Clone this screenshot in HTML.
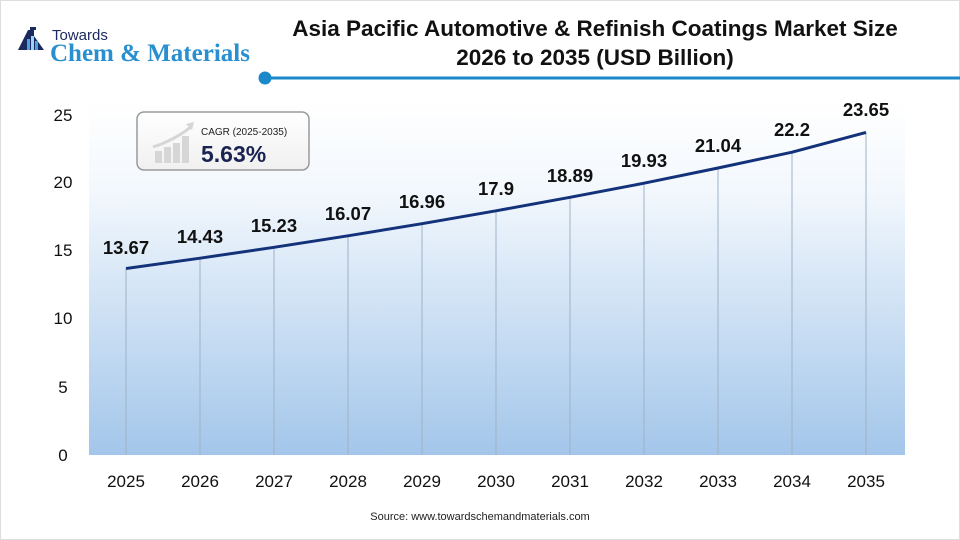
<!DOCTYPE html>
<html><head><meta charset="utf-8"><style>
body{margin:0;background:#fff;}
svg{display:block;font-family:"Liberation Sans",sans-serif;}
</style></head><body>
<svg width="960" height="540" viewBox="0 0 960 540" xmlns="http://www.w3.org/2000/svg">
<defs>
<linearGradient id="bg" x1="0" y1="0" x2="0" y2="1">
<stop offset="0" stop-color="#ffffff"/>
<stop offset="0.25" stop-color="#f3f8fd"/>
<stop offset="1" stop-color="#a3c6ea"/>
</linearGradient>
<linearGradient id="box" x1="0" y1="0" x2="0" y2="1">
<stop offset="0" stop-color="#ffffff"/>
<stop offset="1" stop-color="#f0f0f0"/>
</linearGradient>
</defs>
<rect x="0.5" y="0.5" width="959" height="539" fill="#fff" stroke="#ddd"/>
<rect x="89" y="100" width="816" height="355" fill="url(#bg)"/>
<!-- logo -->
<g>
<path d="M28 30h6v6l10 14h-26z" fill="#1b2a5e"/>
<rect x="30" y="27" width="6" height="3" fill="#1b2a5e"/>
<rect x="27" y="39" width="3" height="11" fill="#4aa3df"/>
<rect x="31" y="36" width="3" height="14" fill="#9fd1f2"/>
<rect x="35" y="41" width="3" height="9" fill="#4aa3df"/>
<text x="52" y="40" font-size="15" fill="#1b2a5e">Towards</text>
<text x="50" y="61" font-size="25" fill="#2a8fd0" font-family="Liberation Serif,serif" font-weight="bold">Chem &amp; Materials</text>
</g>
<!-- title -->
<text x="595" y="36" font-size="22.5" font-weight="bold" text-anchor="middle" fill="#111">Asia Pacific Automotive &amp; Refinish Coatings Market Size</text>
<text x="595" y="65" font-size="22.5" font-weight="bold" text-anchor="middle" fill="#111">2026 to 2035 (USD Billion)</text>
<line x1="265" y1="78" x2="960" y2="78" stroke="#1a88c9" stroke-width="3"/>
<circle cx="265" cy="78" r="6.5" fill="#1a88c9"/>
<!-- y axis labels -->
<g font-size="17" fill="#111" text-anchor="middle">
<text x="63" y="121">25</text>
<text x="63" y="188">20</text>
<text x="63" y="256">15</text>
<text x="63" y="324">10</text>
<text x="63" y="393">5</text>
<text x="63" y="461">0</text>
</g>
<!-- grid lines -->
<g stroke="#9fb2c6" stroke-width="1">
<line x1="126" y1="268.5" x2="126" y2="455"/>
<line x1="200" y1="258.2" x2="200" y2="455"/>
<line x1="274" y1="247.3" x2="274" y2="455"/>
<line x1="348" y1="235.8" x2="348" y2="455"/>
<line x1="422" y1="223.7" x2="422" y2="455"/>
<line x1="496" y1="210.8" x2="496" y2="455"/>
<line x1="570" y1="197.3" x2="570" y2="455"/>
<line x1="644" y1="183.2" x2="644" y2="455"/>
<line x1="718" y1="168" x2="718" y2="455"/>
<line x1="792" y1="152.2" x2="792" y2="455"/>
<line x1="866" y1="132.4" x2="866" y2="455"/>
</g>
<polyline fill="none" stroke="#13327a" stroke-width="3" stroke-linejoin="round" points="126,268.5 200,258.2 274,247.3 348,235.8 422,223.7 496,210.8 570,197.3 644,183.2 718,168 792,152.2 866,132.4"/>
<g font-size="18.5" font-weight="bold" fill="#111" text-anchor="middle">
<text x="126" y="254">13.67</text>
<text x="200" y="243">14.43</text>
<text x="274" y="232">15.23</text>
<text x="348" y="220">16.07</text>
<text x="422" y="208">16.96</text>
<text x="496" y="195">17.9</text>
<text x="570" y="182">18.89</text>
<text x="644" y="167">19.93</text>
<text x="718" y="152">21.04</text>
<text x="792" y="136">22.2</text>
<text x="866" y="116">23.65</text>
</g>
<g font-size="17" fill="#111" text-anchor="middle">
<text x="126" y="487">2025</text><text x="200" y="487">2026</text><text x="274" y="487">2027</text>
<text x="348" y="487">2028</text><text x="422" y="487">2029</text><text x="496" y="487">2030</text>
<text x="570" y="487">2031</text><text x="644" y="487">2032</text><text x="718" y="487">2033</text>
<text x="792" y="487">2034</text><text x="866" y="487">2035</text>
</g>
<text x="480" y="520" font-size="11" text-anchor="middle" fill="#222">Source: www.towardschemandmaterials.com</text>
<!-- CAGR box -->
<rect x="137" y="112" width="172" height="58" rx="7" fill="url(#box)" stroke="#9a9a9a" stroke-width="1.5"/>
<g fill="#d6d6d6">
<rect x="155" y="151" width="7" height="12"/>
<rect x="164" y="147" width="7" height="16"/>
<rect x="173" y="143" width="7" height="20"/>
<rect x="182" y="136" width="7" height="27"/>
</g>
<path d="M153 147 Q175 140 192 126" fill="none" stroke="#d6d6d6" stroke-width="3"/>
<path d="M186 124l8-2-2 8z" fill="#d6d6d6"/>
<text x="201" y="135" font-size="10" fill="#222">CAGR (2025-2035)</text>
<text x="201" y="162" font-size="23" font-weight="bold" fill="#1b2350">5.63%</text>
</svg>
</body></html>
